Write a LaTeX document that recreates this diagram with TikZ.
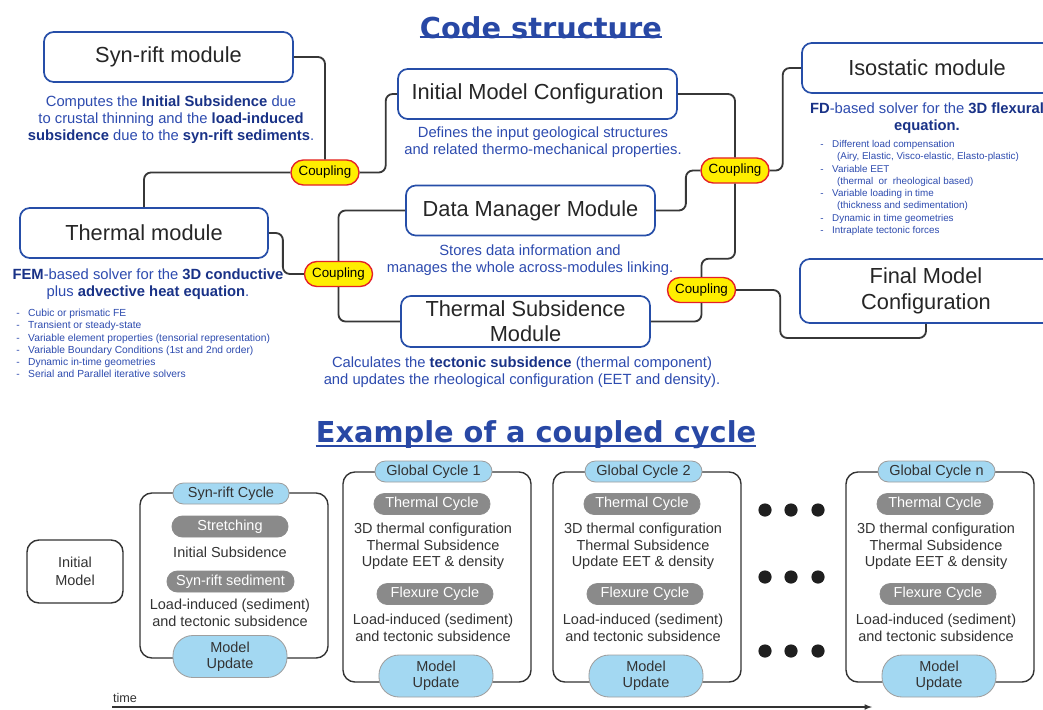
\documentclass[tikz,border=0pt]{standalone}
\usepackage{fontspec}
\setmainfont{Liberation Sans}
\newfontfamily\titlefont{DejaVu Sans}
\usepackage{tikz}
\usetikzlibrary{arrows}
\definecolor{modblue}{RGB}{38,78,168}
\definecolor{txtblue}{RGB}{45,75,175}
\definecolor{boldblue}{RGB}{25,50,135}
\definecolor{titleblue}{RGB}{40,72,165}
\definecolor{linkgray}{RGB}{55,55,55}
\definecolor{cpyellow}{RGB}{255,238,0}
\definecolor{cpred}{RGB}{228,32,40}
\definecolor{pillblue}{RGB}{163,216,242}
\definecolor{pillgray}{RGB}{138,138,138}
\newcommand{\kw}[1]{\textcolor{boldblue}{\textbf{#1}}}
\newcommand{\dashitem}[1]{\makebox[8.5pt][l]{-}#1}

\begin{document}
\begin{tikzpicture}[x=0.025cm,y=-0.025cm,
 module/.style={draw=modblue, line width=1.2pt, fill=white, rounded corners=7pt, align=center, text=black!85, font=\fontsize{15.5}{18}\selectfont, minimum height=1.25cm, inner sep=2pt},
 coupling/.style={draw=cpred, fill=cpyellow, line width=1pt, rounded corners=0.31cm, minimum width=1.7cm, minimum height=0.625cm, inner sep=0pt, font=\fontsize{9.5}{11}\selectfont},
 link/.style={draw=linkgray, line width=1.3pt, rounded corners=5pt},
 desc/.style={text=txtblue, align=center, inner sep=0pt, font=\fontsize{10.5}{12}\selectfont},
 bullets/.style={text=txtblue, align=left, inner sep=0pt, anchor=west, font=\fontsize{7}{8.7}\selectfont},
 title/.style={text=titleblue, inner sep=0pt, anchor=base, font=\titlefont\bfseries\fontsize{20.5}{24}\selectfont},
 cycle/.style={draw=black!80, line width=1pt, fill=white, rounded corners=0.3cm, minimum width=4.7cm, minimum height=5.25cm},
 bluepill/.style={draw=gray!75, line width=0.6pt, fill=pillblue, rounded corners=0.26cm, minimum width=2.9cm, minimum height=0.525cm, inner sep=0pt, text=black!80, font=\fontsize{10.3}{11.7}\selectfont},
 graypill/.style={bluepill, draw=black!45, fill=pillgray, text=white},
 updpill/.style={bluepill, align=center, minimum width=2.85cm, minimum height=1.05cm, rounded corners=0.5cm},
 cyctext/.style={align=center, inner sep=0pt, text=black!80, font=\fontsize{10.3}{11.7}\selectfont}]

\path[use as bounding box, fill=white] (0,0) rectangle (1043,709);

\node[title] (cs) at (541,39) {Code structure};
\draw[titleblue, line width=1.3pt] ([yshift=2pt]cs.south west) -- ([yshift=2pt]cs.south east);

\node[module, minimum width=6.225cm] (syn) at (168.5,57) {Syn-rift module};
\node[module, minimum width=6.975cm] (imc) at (537.5,94) {Initial Model Configuration};
\node[module, minimum width=6.25cm] (iso) at (927,68) {Isostatic module};
\node[module, minimum width=6.2cm] (therm) at (144,233) {Thermal module};
\node[module, minimum width=6.225cm] (dmm) at (530.5,210.5) {Data Manager Module};
\node[module, minimum width=6.225cm, minimum height=1.275cm] (tsm) at (525.5,321.5) {Thermal Subsidence\\Module};
\node[module, minimum width=6.3cm, minimum height=1.6cm] (fmc) at (926,291) {Final Model\\Configuration};

\node[coupling] (c1) at (325,172.5) {Coupling};
\node[coupling] (c2) at (735,170.5) {Coupling};
\node[coupling] (c3) at (338.5,274) {Coupling};
\node[coupling] (c4) at (701.5,290) {Coupling};

\draw[link] (syn.east) -| (c1.north);
\draw[link] (c1.west) -| (therm.north);
\draw[link] (c1.east) -- ++(26,0) |- (imc.west);
\draw[link] (imc.east) -| (c2.north);
\draw[link] (dmm.east) -- ++(30,0) |- (c2.west);
\draw[link] (c2.east) -- ++(13,0) |- (iso.west);
\draw[link] (c2.south) -- ++(0,75) -| (c4.north);
\draw[link] (therm.east) -- ++(14,0) |- (c3.west);
\draw[link] (c3.north) |- (dmm.west);
\draw[link] (c3.south) |- (tsm.west);
\draw[link] (tsm.east) -| (c4.south);
\draw[link] (c4.east) -- ++(44,0) -- ++(0,48) -| (fmc.south);

\node[desc] (syn-d) at (171,120) {Computes the \kw{Initial Subsidence} due\\to crustal thinning and the \kw{load-induced}\\\kw{subsidence} due to the \kw{syn-rift sediments}.};
\node[desc] (imc-d) at (543,142) {Defines the input geological structures\\and related thermo-mechanical properties.};
\node[desc] (iso-d) at (927,118.5) {\kw{FD}-based solver for the \kw{3D flexural}\\\kw{equation.}};
\node[bullets] (iso-l) at (820,188) {\dashitem{Different load compensation}\\
 \hspace*{12pt}(Airy, Elastic, Visco-elastic, Elasto-plastic)\\
 \dashitem{Variable EET}\\
 \hspace*{12pt}(thermal\ \ or\ \ rheological based)\\
 \dashitem{Variable loading in time}\\
 \hspace*{12pt}(thickness and sedimentation)\\
 \dashitem{Dynamic in time geometries}\\
 \dashitem{Intraplate tectonic forces}};
\node[desc] (therm-d) at (148,284.5) {\kw{FEM}-based solver for the \kw{3D conductive}\\plus \kw{advective heat equation}.};
\node[bullets, font=\fontsize{7.3}{8.7}\selectfont] (therm-l) at (16,343.5) {\dashitem{Cubic or prismatic FE}\\
 \dashitem{Transient or steady-state}\\
 \dashitem{Variable element properties (tensorial representation)}\\
 \dashitem{Variable Boundary Conditions (1st and 2nd order)}\\
 \dashitem{Dynamic in-time geometries}\\
 \dashitem{Serial and Parallel iterative solvers}};
\node[desc] (dmm-d) at (530,260) {Stores data information and\\manages the whole across-modules linking.};
\node[desc] (tsm-d) at (522,372.5) {Calculates the \kw{tectonic subsidence} (thermal component)\\and updates the rheological configuration (EET and density).};

\node[title] (ex) at (536,442) {Example of a coupled cycle};
\draw[titleblue, line width=1.3pt] ([yshift=2pt]ex.south west) -- ([yshift=2pt]ex.south east);

\node[draw=black!80, line width=1pt, rounded corners=0.3cm, minimum width=2.4cm, minimum height=1.575cm, align=center, text=black!80, font=\fontsize{10.3}{12.5}\selectfont] (init) at (75,571.5) {Initial\\Model};

\node[cycle, minimum height=4.125cm] (syc) at (234,575.5) {};
\node[bluepill] (syc-t) at (231,493.5) {Syn-rift Cycle};
\node[graypill] (syc-a) at (230,526.5) {Stretching};
\node[cyctext] (syc-b) at (230,552) {Initial Subsidence};
\node[graypill, minimum width=3.175cm] (syc-c) at (230.5,581.5) {Syn-rift sediment};
\node[cyctext] (syc-e) at (230,613) {Load-induced (sediment)\\and tectonic subsidence};
\node[updpill] (syc-u) at (230,656.5) {Model\\Update};

\node[cycle] (ga) at (437,577) {};
\node[bluepill, minimum width=2.925cm] (ga-t) at (433.5,471.5) {Global Cycle 1};
\node[graypill] (ga-a) at (432,504) {Thermal Cycle};
\node[cyctext] (ga-b) at (433,546.5) {3D thermal configuration\\Thermal Subsidence\\Update EET \& density};
\node[graypill] (ga-c) at (435,594) {Flexure Cycle};
\node[cyctext] (ga-e) at (433,628) {Load-induced (sediment)\\and tectonic subsidence};
\node[updpill] (ga-u) at (436,676) {Model\\Update};

\node[cycle] (gb) at (647,577) {};
\node[bluepill, minimum width=2.925cm] (gb-t) at (643.5,471.5) {Global Cycle 2};
\node[graypill] (gb-a) at (642,504) {Thermal Cycle};
\node[cyctext] (gb-b) at (643,546.5) {3D thermal configuration\\Thermal Subsidence\\Update EET \& density};
\node[graypill] (gb-c) at (645,594) {Flexure Cycle};
\node[cyctext] (gb-e) at (643,628) {Load-induced (sediment)\\and tectonic subsidence};
\node[updpill] (gb-u) at (646,676) {Model\\Update};

\node[cycle] (gn) at (940,577) {};
\node[bluepill, minimum width=2.925cm] (gn-t) at (936.5,471.5) {Global Cycle n};
\node[graypill] (gn-a) at (935,504) {Thermal Cycle};
\node[cyctext] (gn-b) at (936,546.5) {3D thermal configuration\\Thermal Subsidence\\Update EET \& density};
\node[graypill] (gn-c) at (938,594) {Flexure Cycle};
\node[cyctext] (gn-e) at (936,628) {Load-induced (sediment)\\and tectonic subsidence};
\node[updpill] (gn-u) at (939,676) {Model\\Update};

\fill[black!88] (765,510) circle (0.165cm) (791,510) circle (0.165cm) (818,510) circle (0.165cm);
\fill[black!88] (765,577) circle (0.165cm) (791,577) circle (0.165cm) (818,577) circle (0.165cm);
\fill[black!88] (765,651) circle (0.165cm) (791,651) circle (0.165cm) (818,651) circle (0.165cm);

\node[inner sep=0pt, text=black!80, font=\fontsize{9}{10}\selectfont] (tm) at (125,698) {time};
\coordinate (t0) at (112,707);
\coordinate (t1) at (872,707);
\draw[-latex, black!80, line width=0.8pt] (t0) -- (t1);
\end{tikzpicture}
\end{document}
